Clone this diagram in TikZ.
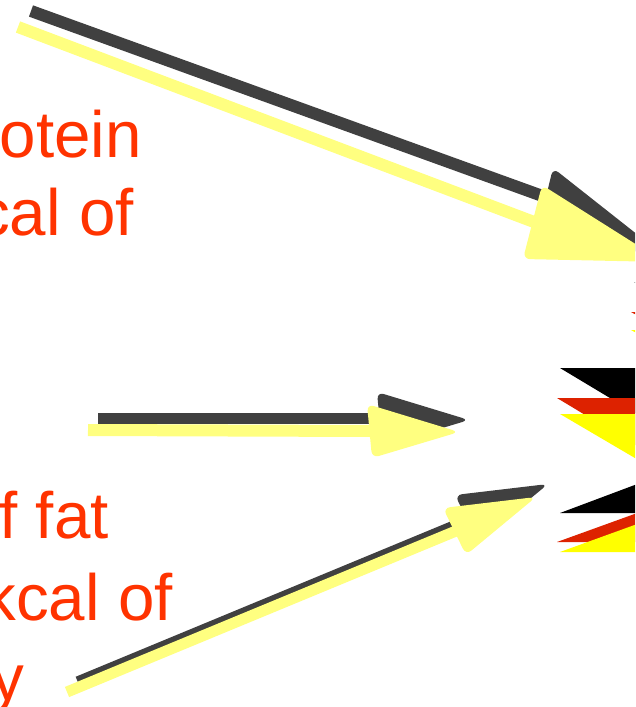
\documentclass[tikz,border=0pt]{standalone}
\usepackage{fontspec}
\setmainfont{Liberation Sans}
\definecolor{shadowgray}{HTML}{404040}
\definecolor{lightyellow}{HTML}{FFFF80}
\definecolor{textred}{HTML}{FF3300}
\definecolor{flagred}{HTML}{DD2200}
\definecolor{flagyellow}{HTML}{FFFF00}
\tikzset{
  shaft/.style={line cap=butt},
  darkshaft/.style={shaft, draw=shadowgray},
  yellowshaft/.style={shaft, draw=lightyellow},
  darkhead/.style={fill=shadowgray, rounded corners=7},
  yellowhead/.style={fill=lightyellow, rounded corners=7},
  lbl/.style={inner sep=0pt, text=textred, font=\fontsize{65.5}{78}\selectfont},
}
\begin{document}
\begin{tikzpicture}[x=1pt,y=-1pt]
\useasboundingbox (0,0) rectangle (635,707);
\clip (0,0) rectangle (635,707);
\fill[white] (0,0) rectangle (635,707);

% labels
\node[lbl, anchor=base east] (t1) at (142,157) {otein};
\node[lbl, anchor=base east] (t2) at (134,235) {cal of};
\node[lbl, anchor=base east] (t3) at (109,538) {f fat};
\node[lbl, anchor=base east] (t4) at (173,620) {kcal of};
\node[lbl, anchor=base east] (t5) at (24,700) {y};

% right-edge triangles, top group
\fill[shadowgray] (634,282) -- (640,282) -- (640,285) -- cycle;
\fill[flagred] (631,312) -- (640,312) -- (640,317) -- cycle;
\fill[flagyellow] (631,330) -- (640,330) -- (640,335) -- cycle;
% middle group
\fill[black] (560,368) -- (640,368) -- (640,416) -- cycle;
\fill[flagred] (557,398) -- (640,398) -- (640,448) -- cycle;
\fill[flagyellow] (560,414) -- (640,414) -- (640,461) -- cycle;
% bottom group
\fill[black] (560,513) -- (640,513) -- (640,483) -- cycle;
\fill[flagred] (557,542) -- (640,542) -- (640,512) -- cycle;
\fill[flagyellow] (560,552) -- (640,552) -- (640,523) -- cycle;

% arrow 1 (top)
\coordinate (a1ds) at (31,11);
\coordinate (a1de) at (548,198);
\coordinate (a1ys) at (18,27);
\coordinate (a1ye) at (534,222);
\draw[darkshaft, line width=12] (a1ds) -- (a1de);
\fill[darkhead] (553,168) -- (662,254) -- (535,242) -- cycle;
\draw[yellowshaft, line width=12] (a1ys) -- (a1ye);
\fill[yellowhead] (542,185) -- (664,262) -- (523,259) -- cycle;

% arrow 2 (middle)
\coordinate (a2ds) at (98,418);
\coordinate (a2de) at (381,418);
\coordinate (a2ys) at (88,430);
\coordinate (a2ye) at (371,431);
\draw[darkshaft, line width=11] (a2ds) -- (a2de);
\fill[darkhead] (377,392) -- (469,420) -- (382,446) -- cycle;
\draw[yellowshaft, line width=12] (a2ys) -- (a2ye);
\fill[yellowhead] (367,404) -- (459,432) -- (372,458) -- cycle;

% arrow 3 (bottom)
\coordinate (a3ds) at (77,680);
\coordinate (a3de) at (468,518);
\coordinate (a3ys) at (67,692);
\coordinate (a3ye) at (456,531);
\draw[darkshaft, line width=7] (a3ds) -- (a3de);
\fill[darkhead] (455,495) -- (548,484) -- (478,542) -- cycle;
\draw[yellowshaft, line width=11] (a3ys) -- (a3ye);
\fill[yellowhead] (443,508) -- (536,497) -- (466,555) -- cycle;
\end{tikzpicture}
\end{document}
